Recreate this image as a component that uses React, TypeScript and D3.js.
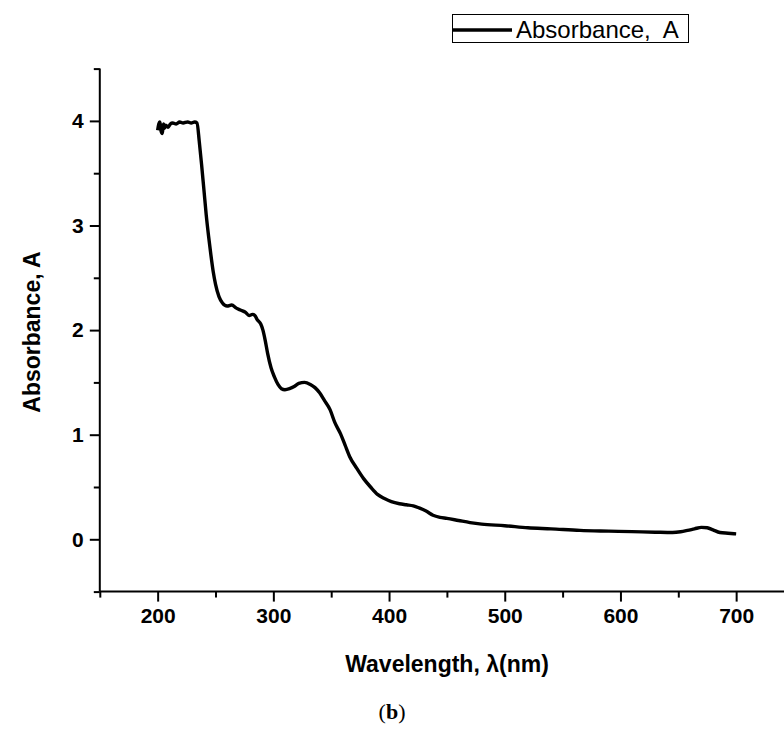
import React, { useEffect, useRef } from "react";
import * as d3 from "d3";

const wavelengths: number[] = [
  200, 201, 202, 203, 204, 205, 206, 207, 209, 211, 213, 216, 219, 222, 226, 229, 232, 234,
  236, 238, 240, 242, 244, 246, 248, 250, 253, 256, 260, 264, 268, 272, 276, 279, 282, 284,
  286, 289, 291, 293, 295, 298, 301, 304, 307, 310, 314, 318, 322, 327, 332, 336, 340, 344,
  349, 353, 358, 362, 366, 372, 378, 384, 390, 396, 402, 409, 415, 421, 426, 432, 438, 444,
  450, 460, 470, 480, 500, 520, 540, 565, 590, 610, 630, 645, 652, 658, 664, 670, 675, 680,
  686, 693, 700,
];
const absorbance: number[] = [
  3.91, 3.97, 3.99, 3.9, 3.88, 3.97, 3.93, 3.96, 3.94, 3.97, 3.98, 3.97, 3.99, 3.98, 3.99, 3.98, 3.99, 3.98,
  3.8, 3.58, 3.34, 3.1, 2.9, 2.72, 2.56, 2.44, 2.32, 2.26, 2.23, 2.24, 2.21, 2.19, 2.17, 2.14, 2.15, 2.14,
  2.1, 2.06, 2.0, 1.9, 1.78, 1.64, 1.55, 1.48, 1.44, 1.43, 1.44, 1.46, 1.49, 1.5, 1.48, 1.45, 1.4, 1.33,
  1.24, 1.12, 1.01, 0.9, 0.79, 0.68, 0.58, 0.5, 0.43, 0.39, 0.36, 0.34, 0.33, 0.32, 0.3, 0.27, 0.23, 0.21,
  0.2, 0.18, 0.16, 0.145, 0.13, 0.11, 0.1, 0.085, 0.078, 0.073, 0.068, 0.065, 0.072, 0.085, 0.1, 0.114, 0.11, 0.09,
  0.065, 0.058, 0.052,
];
const xMajorTicks: number[] = [200, 300, 400, 500, 600, 700];
const xMinorTicks: number[] = [150, 250, 350, 450, 550, 650, 750];
const yMajorTicks: number[] = [0, 1, 2, 3, 4];
const yMinorTicks: number[] = [-0.5, 0.5, 1.5, 2.5, 3.5, 4.5];
const seriesName = "Absorbance,  A";
const xTitle = "Wavelength, λ(nm)";
const yTitle = "Absorbance, A";

const W = 784;
const H = 747;
const FONT = "'Liberation Sans', Arial, sans-serif";

export default function App() {
  const ref = useRef<SVGSVGElement | null>(null);

  useEffect(() => {
    const svg = d3.select(ref.current);
    svg.selectAll("*").remove();

    const x = d3.scaleLinear().domain([150, 750]).range([99.8, 794]);
    const y = d3.scaleLinear().domain([-0.5, 4.5]).range([591.6, 68.6]);
    const x0 = 99.8;
    const y0 = 591.6;

    const g = svg.append("g");

    // x axis major
    const xAxis = d3.axisBottom(x).tickValues(xMajorTicks).tickSize(10).tickPadding(6).tickFormat(d3.format("d"));
    const gx = g.append("g").attr("transform", `translate(0,${y0})`).call(xAxis);
    gx.select(".domain").remove();
    gx.selectAll("line").attr("stroke", "#000").attr("stroke-width", 2);
    gx.selectAll("text")
      .attr("font-family", FONT)
      .attr("font-weight", "bold")
      .attr("font-size", 21)
      .attr("fill", "#000");

    const xAxisMinor = d3.axisBottom(x).tickValues(xMinorTicks).tickSize(6).tickFormat(() => "");
    const gxm = g.append("g").attr("transform", `translate(0,${y0})`).call(xAxisMinor);
    gxm.select(".domain").remove();
    gxm.selectAll("line").attr("stroke", "#000").attr("stroke-width", 2);

    // y axis major
    const yAxis = d3.axisLeft(y).tickValues(yMajorTicks).tickSize(10).tickPadding(6).tickFormat(d3.format("d"));
    const gy = g.append("g").attr("transform", `translate(${x0},0)`).call(yAxis);
    gy.select(".domain").remove();
    gy.selectAll("line").attr("stroke", "#000").attr("stroke-width", 2);
    gy.selectAll("text")
      .attr("font-family", FONT)
      .attr("font-weight", "bold")
      .attr("font-size", 21)
      .attr("fill", "#000");

    const yAxisMinor = d3.axisLeft(y).tickValues(yMinorTicks).tickSize(6).tickFormat(() => "");
    const gym = g.append("g").attr("transform", `translate(${x0},0)`).call(yAxisMinor);
    gym.select(".domain").remove();
    gym.selectAll("line").attr("stroke", "#000").attr("stroke-width", 2);

    // axis lines
    g.append("line").attr("x1", x0).attr("x2", W).attr("y1", y0).attr("y2", y0).attr("stroke", "#000").attr("stroke-width", 2);
    g.append("line").attr("x1", x0).attr("x2", x0).attr("y1", y(4.5)).attr("y2", y0).attr("stroke", "#000").attr("stroke-width", 2);

    // data line
    const data = wavelengths.map((w, i) => [w, absorbance[i]] as [number, number]);
    const line = d3
      .line<[number, number]>()
      .x((d) => x(d[0]))
      .y((d) => y(d[1]))
      .curve(d3.curveMonotoneX);
    g.append("path")
      .datum(data)
      .attr("d", line)
      .attr("fill", "none")
      .attr("stroke", "#000")
      .attr("stroke-width", 3.4)
      .attr("stroke-linejoin", "round");

    // axis titles
    g.append("text")
      .attr("x", 447)
      .attr("y", 672)
      .attr("text-anchor", "middle")
      .attr("font-family", FONT)
      .attr("font-weight", "bold")
      .attr("font-size", 23)
      .text(xTitle);
    g.append("text")
      .attr("transform", `translate(40,332) rotate(-90)`)
      .attr("text-anchor", "middle")
      .attr("font-family", FONT)
      .attr("font-weight", "bold")
      .attr("font-size", 23)
      .text(yTitle);

    // legend
    const lg = g.append("g");
    lg.append("rect")
      .attr("x", 452.5)
      .attr("y", 14.5)
      .attr("width", 236)
      .attr("height", 28)
      .attr("fill", "#fff")
      .attr("stroke", "#000")
      .attr("stroke-width", 1);
    lg.append("line")
      .attr("x1", 453)
      .attr("x2", 512)
      .attr("y1", 30)
      .attr("y2", 30)
      .attr("stroke", "#000")
      .attr("stroke-width", 3.4);
    lg.append("text")
      .attr("x", 516)
      .attr("y", 38)
      .attr("font-family", FONT)
      .attr("font-size", 24)
      .attr("fill", "#000")
      .style("white-space", "pre")
      .text(seriesName);

    // caption
    const cap = g.append("text")
      .attr("x", 392)
      .attr("y", 719)
      .attr("text-anchor", "middle")
      .attr("font-family", "'Liberation Serif', 'DejaVu Serif', serif")
      .attr("font-size", 22)
      .attr("fill", "#000");
    cap.append("tspan").text("(");
    cap.append("tspan").attr("font-weight", "bold").text("b");
    cap.append("tspan").text(")");
  }, []);

  return (
    <svg
      ref={ref}
      width={W}
      height={H}
      style={{ position: "absolute", left: 0, top: 0, background: "#fff" }}
    />
  );
}
